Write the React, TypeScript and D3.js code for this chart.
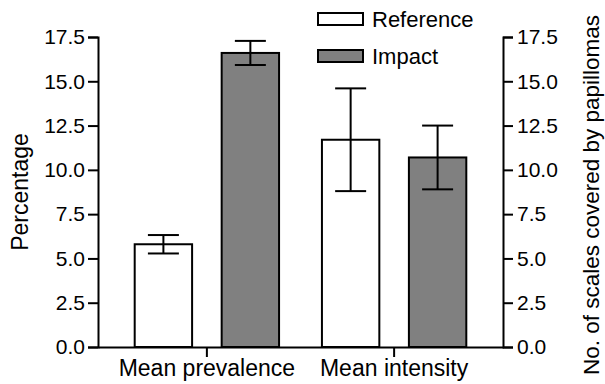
import React, { useRef, useEffect } from 'react';
import * as d3 from 'd3';

const categories = ['Mean prevalence', 'Mean intensity'];
const series = ['Reference', 'Impact'];
const means = [
    [5.8, 16.6],
    [11.7, 10.7],
];
const errors = [
    [0.52, 0.68],
    [2.9, 1.8],
];
const ticks = [0, 2.5, 5, 7.5, 10, 12.5, 15, 17.5];

const COLORS: Record<string, string> = { Reference: '#ffffff', Impact: '#808080' };

const App: React.FC = () => {
    const svgRef = useRef<SVGSVGElement | null>(null);

    useEffect(() => {
        if (!svgRef.current) return;
        const width = 605;
        const height = 384;
        const left = 98;
        const right = 503;
        const top = 37;
        const bottom = 347;
        const font = '"Liberation Sans", Arial, sans-serif';

        const svg = d3.select(svgRef.current);
        svg.selectAll('*').remove();
        svg.attr('viewBox', `0 0 ${width} ${height}`);

        svg.append('rect').attr('width', width).attr('height', height).attr('fill', '#fff');

        const x = d3.scaleBand<string>()
            .domain(categories)
            .range([left, right])
            .paddingInner(0.229)
            .paddingOuter(0.196);
        const xs = d3.scaleBand<string>()
            .domain(series)
            .range([0, x.bandwidth()])
            .paddingInner(0.34)
            .paddingOuter(0);
        const y = d3.scaleLinear().domain([0, 17.5]).range([bottom, top]);

        // --- BARS ---
        const groups = svg.append('g').selectAll('g.cat')
            .data(categories)
            .join('g')
            .attr('class', 'cat')
            .attr('transform', d => `translate(${x(d)},0)`);

        groups.each(function (cat, ci) {
            const g = d3.select(this);
            series.forEach((s, si) => {
                const v = means[ci][si];
                const e = errors[ci][si];
                const bx = xs(s)!;
                const bw = xs.bandwidth();
                const cx = bx + bw / 2;
                const cap = bw * 0.27;
                g.append('rect')
                    .attr('x', bx)
                    .attr('y', y(v))
                    .attr('width', bw)
                    .attr('height', y(0) - y(v))
                    .attr('fill', COLORS[s])
                    .attr('stroke', '#000')
                    .attr('stroke-width', 2);
                g.append('line')
                    .attr('x1', cx).attr('x2', cx)
                    .attr('y1', y(v + e)).attr('y2', y(v - e))
                    .attr('stroke', '#000').attr('stroke-width', 2);
                [v + e, v - e].forEach(t => {
                    g.append('line')
                        .attr('x1', cx - cap).attr('x2', cx + cap)
                        .attr('y1', y(t)).attr('y2', y(t))
                        .attr('stroke', '#000').attr('stroke-width', 2);
                });
            });
        });

        // --- AXES ---
        const styleAxis = (sel: d3.Selection<SVGGElement, unknown, null, undefined>, size: number) => {
            sel.select('.domain').attr('stroke', '#000').attr('stroke-width', 2);
            sel.selectAll('.tick line').attr('stroke', '#000').attr('stroke-width', 2);
            sel.selectAll('.tick text')
                .attr('fill', '#000')
                .style('font-family', font)
                .style('font-size', `${size}px`);
        };

        const yLeft = svg.append('g')
            .attr('transform', `translate(${left},0)`)
            .call(d3.axisLeft(y).tickValues(ticks).tickFormat(d3.format('.1f')).tickSize(10).tickSizeOuter(10).tickPadding(3));
        styleAxis(yLeft, 21);

        const yRight = svg.append('g')
            .attr('transform', `translate(${right},0)`)
            .call(d3.axisRight(y).tickValues(ticks).tickFormat(d3.format('.1f')).tickSize(10).tickSizeOuter(10).tickPadding(4));
        styleAxis(yRight, 21);

        const xAxis = svg.append('g')
            .attr('transform', `translate(0,${bottom})`)
            .call(d3.axisBottom(x).tickSize(10).tickSizeOuter(0).tickPadding(3));
        styleAxis(xAxis, 23);

        // --- AXIS TITLES ---
        svg.append('text')
            .attr('transform', `translate(28,192) rotate(-90)`)
            .attr('text-anchor', 'middle')
            .style('font-family', font)
            .style('font-size', '23px')
            .text('Percentage');

        svg.append('text')
            .attr('transform', `translate(599,195) rotate(-90)`)
            .attr('text-anchor', 'middle')
            .style('font-family', font)
            .style('font-size', '22.5px')
            .text('No. of scales covered by papillomas');

        // --- LEGEND ---
        const legend = svg.append('g').selectAll('g.leg')
            .data(series)
            .join('g')
            .attr('class', 'leg')
            .attr('transform', (_, i) => `translate(318,${13 + i * 37})`);
        legend.append('rect')
            .attr('width', 45)
            .attr('height', 12)
            .attr('fill', d => COLORS[d])
            .attr('stroke', '#000')
            .attr('stroke-width', 2);
        legend.append('text')
            .attr('x', 54)
            .attr('y', 14)
            .style('font-family', font)
            .style('font-size', '22px')
            .text(d => d);
    }, []);

    return (
        <svg ref={svgRef} width={605} height={384} style={{ position: 'absolute', left: 0, top: 0 }}></svg>
    );
};

export default App;
